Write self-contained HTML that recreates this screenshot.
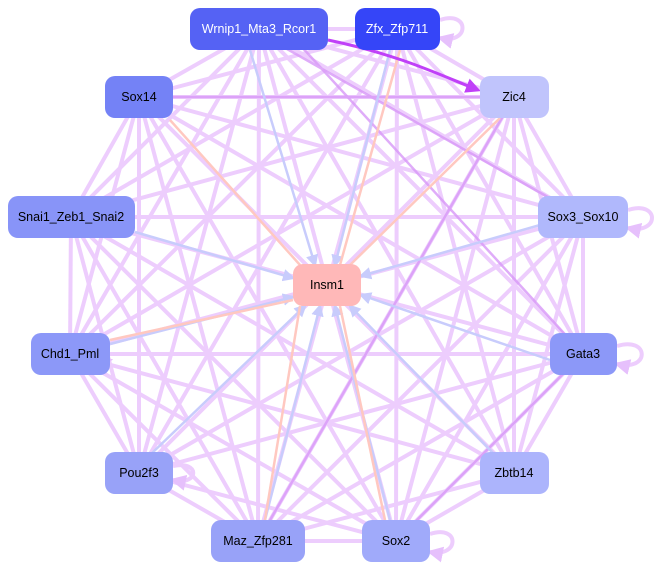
<!DOCTYPE html>
<html><head><style>
body{margin:0;background:#fff;}
svg{display:block;font-family:"Liberation Sans",Arial,sans-serif;}
</style></head><body>
<svg width="662" height="572" viewBox="0 0 662 572" xmlns="http://www.w3.org/2000/svg">
<defs>
<marker id="a" markerWidth="4" markerHeight="4" refX="3.2" refY="2" orient="auto" markerUnits="strokeWidth"><path d="M0,0L4,2L0,4z" fill="#e6c0fc"/></marker>
<marker id="b" markerWidth="5" markerHeight="5" refX="4" refY="2.5" orient="auto" markerUnits="strokeWidth"><path d="M0,0L5,2.5L0,5z" fill="#c8ccfc"/></marker>
<marker id="c" markerWidth="5" markerHeight="5" refX="4" refY="2.5" orient="auto" markerUnits="strokeWidth"><path d="M0,0L5,2.5L0,5z" fill="#c040f8"/></marker>
</defs>
<g stroke="#edcdfd" stroke-width="4" fill="none" marker-end="url(#a)">
<line x1="259" y1="29" x2="139" y2="97"/><line x1="259" y1="29" x2="514" y2="97"/><line x1="259" y1="29" x2="71" y2="217"/><line x1="259" y1="29" x2="583" y2="217"/><line x1="259" y1="29" x2="70" y2="354"/><line x1="259" y1="29" x2="583" y2="354"/><line x1="259" y1="29" x2="139" y2="473"/><line x1="259" y1="29" x2="514" y2="473"/><line x1="259" y1="29" x2="258" y2="541"/><line x1="259" y1="29" x2="396" y2="541"/>
<line x1="397" y1="29" x2="139" y2="97"/><line x1="397" y1="29" x2="514" y2="97"/><line x1="397" y1="29" x2="71" y2="217"/><line x1="397" y1="29" x2="583" y2="217"/><line x1="397" y1="29" x2="70" y2="354"/><line x1="397" y1="29" x2="583" y2="354"/><line x1="397" y1="29" x2="139" y2="473"/><line x1="397" y1="29" x2="514" y2="473"/><line x1="397" y1="29" x2="258" y2="541"/><line x1="397" y1="29" x2="396" y2="541"/>
<line x1="139" y1="97" x2="514" y2="97"/><line x1="139" y1="97" x2="583" y2="217"/><line x1="139" y1="97" x2="583" y2="354"/><line x1="139" y1="97" x2="139" y2="473"/><line x1="139" y1="97" x2="514" y2="473"/><line x1="139" y1="97" x2="258" y2="541"/><line x1="139" y1="97" x2="396" y2="541"/><line x1="139" y1="97" x2="71" y2="217"/><line x1="139" y1="97" x2="70" y2="354"/>
<line x1="514" y1="97" x2="71" y2="217"/><line x1="514" y1="97" x2="70" y2="354"/><line x1="514" y1="97" x2="139" y2="473"/><line x1="514" y1="97" x2="258" y2="541"/><line x1="514" y1="97" x2="396" y2="541"/><line x1="514" y1="97" x2="583" y2="217"/><line x1="514" y1="97" x2="583" y2="354"/><line x1="514" y1="97" x2="514" y2="473"/>
<line x1="71" y1="217" x2="583" y2="217"/><line x1="71" y1="217" x2="583" y2="354"/><line x1="71" y1="217" x2="70" y2="354"/><line x1="71" y1="217" x2="139" y2="473"/><line x1="71" y1="217" x2="514" y2="473"/><line x1="71" y1="217" x2="258" y2="541"/><line x1="71" y1="217" x2="396" y2="541"/>
<line x1="583" y1="217" x2="70" y2="354"/><line x1="583" y1="217" x2="583" y2="354"/><line x1="583" y1="217" x2="139" y2="473"/><line x1="583" y1="217" x2="514" y2="473"/><line x1="583" y1="217" x2="258" y2="541"/><line x1="583" y1="217" x2="396" y2="541"/>
<line x1="70" y1="354" x2="583" y2="354"/><line x1="70" y1="354" x2="139" y2="473"/><line x1="70" y1="354" x2="514" y2="473"/><line x1="70" y1="354" x2="258" y2="541"/><line x1="70" y1="354" x2="396" y2="541"/>
<line x1="583" y1="354" x2="139" y2="473"/><line x1="583" y1="354" x2="514" y2="473"/><line x1="583" y1="354" x2="258" y2="541"/><line x1="583" y1="354" x2="396" y2="541"/>
<line x1="139" y1="473" x2="396" y2="541"/><line x1="514" y1="473" x2="258" y2="541"/><line x1="514" y1="473" x2="396" y2="541"/><line x1="258" y1="541" x2="396" y2="541"/><line x1="139" y1="473" x2="258" y2="541"/>
<line x1="259" y1="29" x2="397" y2="29"/>
<path d="M440,20 C470,10 470,45 440,38"/><path d="M628,210 C660,200 660,235 628,228"/><path d="M617,346 C650,336 650,372 617,364"/><path d="M430,534 C460,524 460,558 430,552"/><path d="M110,346 C85,340 85,365 110,360"/><path d="M173,466 C200,460 200,486 173,480"/>
</g>
<g stroke="#d898f8" stroke-width="2.5" opacity="0.8" fill="none">
<line x1="280" y1="45" x2="583" y2="217"/><line x1="300" y1="45" x2="583" y2="354"/><line x1="514" y1="97" x2="258" y2="541"/><line x1="139" y1="97" x2="514" y2="97"/><line x1="583" y1="354" x2="396" y2="541"/>
</g>
<g stroke="#c8ccfc" stroke-width="2.5" fill="none" marker-end="url(#b)">
<line x1="250" y1="50" x2="315" y2="265"/><line x1="390" y1="50" x2="335" y2="265"/><line x1="135" y1="232" x2="293" y2="278"/><line x1="540" y1="225" x2="361" y2="276"/><line x1="550" y1="360" x2="361" y2="295"/><line x1="150" y1="455" x2="305" y2="306"/><line x1="495" y1="455" x2="350" y2="306"/><line x1="265" y1="520" x2="320" y2="306"/><line x1="390" y1="520" x2="335" y2="306"/><line x1="110" y1="344" x2="293" y2="297"/>
</g>
<g stroke="#ffc8c0" stroke-width="2.5" fill="none">
<line x1="170" y1="120" x2="300" y2="265"/><line x1="400" y1="50" x2="340" y2="265"/><line x1="500" y1="118" x2="350" y2="265"/><line x1="300" y1="306" x2="265" y2="520"/><line x1="340" y1="306" x2="385" y2="520"/><line x1="293" y1="300" x2="110" y2="340"/>
</g>
<path d="M328,40 C400,55 440,75 478,90" stroke="#c040f8" stroke-width="3" fill="none" marker-end="url(#c)"/>
<g font-size="12.5" text-anchor="middle" dominant-baseline="central">
<rect x="190" y="8" width="138" height="42" rx="10" fill="#5562f4"/><text x="259" y="29" fill="#fff">Wrnip1_Mta3_Rcor1</text>
<rect x="355" y="8" width="85" height="42" rx="10" fill="#3545f8"/><text x="397" y="29" fill="#fff">Zfx_Zfp711</text>
<rect x="105" y="76" width="68" height="42" rx="10" fill="#7482f6"/><text x="139" y="97">Sox14</text>
<rect x="480" y="76" width="69" height="42" rx="10" fill="#c0c4fc"/><text x="514" y="97">Zic4</text>
<rect x="8" y="196" width="127" height="42" rx="10" fill="#8894f8"/><text x="71" y="217">Snai1_Zeb1_Snai2</text>
<rect x="538" y="196" width="90" height="42" rx="10" fill="#b0b8fc"/><text x="583" y="217">Sox3_Sox10</text>
<rect x="293" y="264" width="68" height="42" rx="10" fill="#ffb8b8"/><text x="327" y="285">Insm1</text>
<rect x="31" y="333" width="79" height="42" rx="10" fill="#8c98f8"/><text x="70" y="354">Chd1_Pml</text>
<rect x="550" y="333" width="67" height="42" rx="10" fill="#8c98f8"/><text x="583" y="354">Gata3</text>
<rect x="105" y="452" width="68" height="42" rx="10" fill="#98a2f8"/><text x="139" y="473">Pou2f3</text>
<rect x="480" y="452" width="69" height="42" rx="10" fill="#acb4fc"/><text x="514" y="473">Zbtb14</text>
<rect x="211" y="520" width="94" height="42" rx="10" fill="#98a2f8"/><text x="258" y="541">Maz_Zfp281</text>
<rect x="362" y="520" width="68" height="42" rx="10" fill="#a0aafa"/><text x="396" y="541">Sox2</text>
</g>
</svg>
</body></html>
